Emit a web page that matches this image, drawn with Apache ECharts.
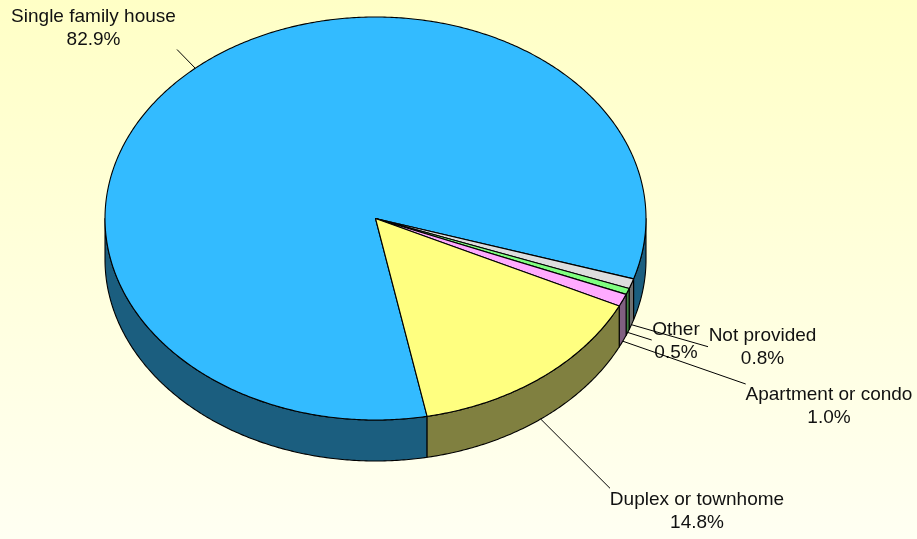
<!DOCTYPE html>
<html>
<head>
<meta charset="utf-8">
<title>Type of home</title>
<script src="https://cdn.jsdelivr.net/npm/echarts@6/dist/echarts.min.js"></script>
<style>
  html, body { margin: 0; padding: 0; }
  #chart { width: 917px; height: 539px; }
</style>
</head>
<body>
<div id="chart"></div>
<script>
// Slice data, listed clockwise from the start angle
const categories = ['Single family house', 'Not provided', 'Other', 'Apartment or condo', 'Duplex or townhome'];
const shares = [82.9, 0.8, 0.5, 1.0, 14.8];

// Face colours: top face and the darker outer wall
const topColors = ['#33BBFF', '#DDDDDD', '#80FF80', '#FFAAFF', '#FFFF80'];
const sideColors = ['#1B5E7F', '#707070', '#408040', '#806080', '#808040'];

// Tilted pie geometry (pixels); angles are measured clockwise from 12 o'clock
const PIE = { cx: 375.5, cy: 218.5, rx: 270.5, ry: 201.5, depth: 41, startAngle: 169 };

// Where each label block sits and where its leader line ends
const labelLayout = [
  { x: 93.5, y: 28.5, lx: 177, ly: 49.5 },
  { x: 762.5, y: 347, lx: 708, ly: 346.7 },
  { x: 676, y: 341.5, lx: 651.7, ly: 340 },
  { x: 829, y: 406.5, lx: 745.7, ly: 384 },
  { x: 697, y: 511, lx: 610, ly: 488.3 }
];

const total = shares.reduce((a, b) => a + b, 0);
const spans = [];
let acc = PIE.startAngle;
shares.forEach(v => {
  const sweep = v / total * 360;
  spans.push([acc, acc + sweep]);
  acc += sweep;
});

const rad = d => d * Math.PI / 180;
function pt(deg, drop) {
  return [PIE.cx + PIE.rx * Math.sin(rad(deg)), PIE.cy - PIE.ry * Math.cos(rad(deg)) + (drop || 0)];
}
function arc(a0, a1, drop) {
  const n = Math.max(2, Math.ceil(Math.abs(a1 - a0) / 0.5));
  const out = [];
  for (let k = 0; k <= n; k++) out.push(pt(a0 + (a1 - a0) * k / n, drop));
  return out;
}

function renderItem(params, api) {
  const i = params.dataIndex;
  const [a0, a1] = spans[i];
  const children = [];
  const edge = { stroke: '#000', lineWidth: 1.1, lineJoin: 'round' };

  // Outer wall: only the part facing the viewer (90°..270° on the clock)
  for (let k = -1; k <= 2; k++) {
    const s = Math.max(a0, 90 + 360 * k);
    const e = Math.min(a1, 270 + 360 * k);
    if (e > s) {
      const pts = arc(s, e, 0).concat(arc(e, s, PIE.depth));
      children.push({
        type: 'polygon', z2: 1,
        shape: { points: pts },
        style: Object.assign({ fill: sideColors[i] }, edge)
      });
    }
  }

  // Top face
  children.push({
    type: 'polygon', z2: 5,
    shape: { points: [[PIE.cx, PIE.cy]].concat(arc(a0, a1, 0)) },
    style: Object.assign({ fill: topColors[i] }, edge)
  });

  // Label with leader line from the slice's middle
  const mid = (a0 + a1) / 2;
  const front = Math.cos(rad(mid)) < 0;
  const start = pt(mid, front ? PIE.depth : 0);
  const lay = labelLayout[i];
  children.push({
    type: 'text', z2: 8,
    style: {
      text: categories[i] + '\n' + shares[i].toFixed(1) + '%',
      x: lay.x, y: lay.y,
      align: 'center', verticalAlign: 'middle',
      fontFamily: 'Liberation Sans, Arial, sans-serif',
      fontSize: 19, lineHeight: 23,
      fill: '#111'
    }
  });
  children.push({
    type: 'line', z2: 9,
    shape: { x1: start[0], y1: start[1], x2: lay.lx, y2: lay.ly },
    style: { stroke: '#000', lineWidth: 1 }
  });

  return { type: 'group', children };
}

const chart = echarts.init(document.getElementById('chart'), null, { renderer: 'canvas' });
chart.setOption({
  animation: false,
  backgroundColor: new echarts.graphic.LinearGradient(0, 0, 0, 1, [
    { offset: 0, color: '#FFFFC6' },
    { offset: 1, color: '#FFFFF2' }
  ]),
  series: [{
    type: 'custom',
    coordinateSystem: 'none',
    data: shares.map((v, i) => ({ name: categories[i], value: v })),
    renderItem
  }]
});
</script>
</body>
</html>
